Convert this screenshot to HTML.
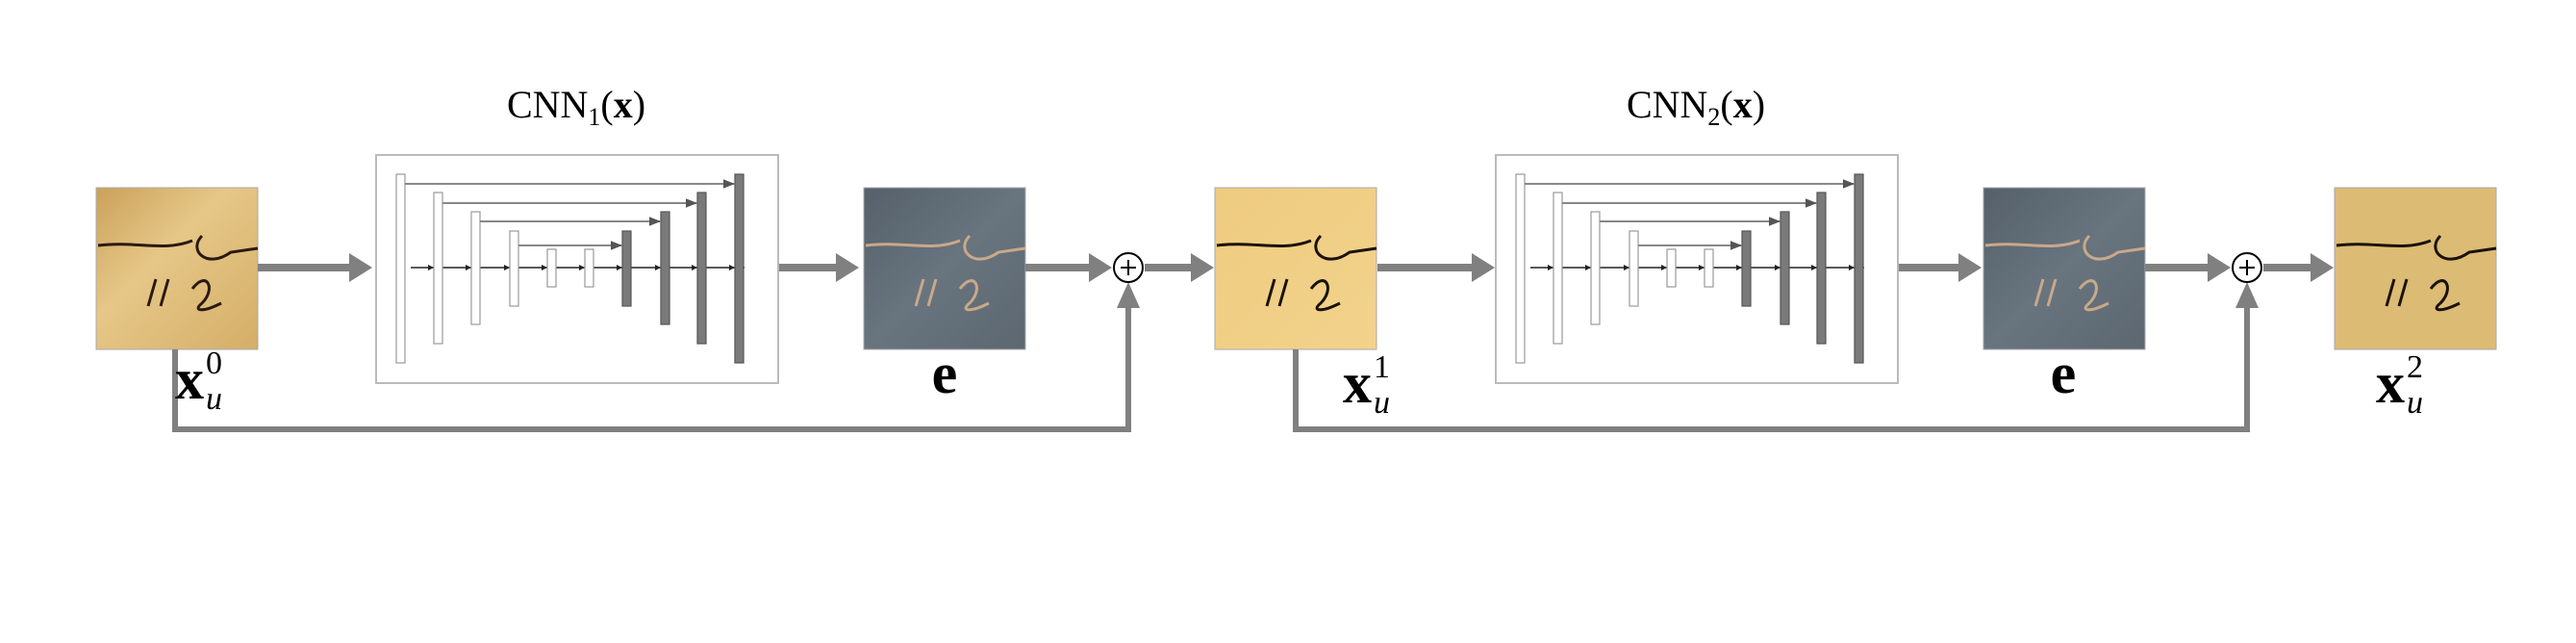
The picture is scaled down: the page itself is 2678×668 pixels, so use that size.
<!DOCTYPE html>
<html><head><meta charset="utf-8"><style>
html,body{margin:0;padding:0;background:#fff;}
svg{display:block}
text{font-family:"Liberation Serif",serif;fill:#000}
</style></head><body>
<svg id="s" width="2678" height="668" viewBox="0 0 2678 668" xmlns="http://www.w3.org/2000/svg">
<defs>
<linearGradient id="g1" x1="0" y1="0" x2="1" y2="1"><stop offset="0" stop-color="#caa15a"/><stop offset="0.4" stop-color="#e6c787"/><stop offset="1" stop-color="#d4ae68"/></linearGradient>
<linearGradient id="ge" x1="0" y1="0" x2="1" y2="1"><stop offset="0" stop-color="#55606a"/><stop offset="0.5" stop-color="#68747e"/><stop offset="1" stop-color="#5c6770"/></linearGradient>
<linearGradient id="g2" x1="0" y1="0" x2="1" y2="1"><stop offset="0" stop-color="#eecb7f"/><stop offset="1" stop-color="#f2d38c"/></linearGradient>
<marker id="ah" viewBox="0 0 10 10" refX="10" refY="5" markerWidth="6" markerHeight="6" orient="auto"><path d="M0,1 L10,5 L0,9 z" fill="#555"/></marker>
</defs>
<g id="main"></g>
<text x="599" y="122" font-size="40" text-anchor="middle">CNN<tspan font-size="26" dy="8">1</tspan><tspan dy="-8">(</tspan><tspan font-weight="bold">x</tspan>)</text>
<text x="1763" y="122" font-size="40" text-anchor="middle">CNN<tspan font-size="26" dy="8">2</tspan><tspan dy="-8">(</tspan><tspan font-weight="bold">x</tspan>)</text>
<text x="182" y="414" font-size="60" font-weight="bold">x</text><text x="214" y="388" font-size="34">0</text><text x="214" y="425" font-size="34" font-style="italic">u</text>
<text x="982" y="408" font-size="60" font-weight="bold" text-anchor="middle">e</text>
<text x="1396" y="418" font-size="60" font-weight="bold">x</text><text x="1428" y="392" font-size="34">1</text><text x="1428" y="429" font-size="34" font-style="italic">u</text>
<text x="2145" y="408" font-size="60" font-weight="bold" text-anchor="middle">e</text>
<text x="2470" y="418" font-size="60" font-weight="bold">x</text><text x="2502" y="392" font-size="34">2</text><text x="2502" y="429" font-size="34" font-style="italic">u</text>
</svg>
<script>
const NS='http://www.w3.org/2000/svg';
const g=document.getElementById('main');
function el(t,a,name){const e=document.createElementNS(NS,t);for(const k in a)e.setAttribute(k,a[k]);


g.appendChild(e);return e;}
const Y=278, GR='#808080';
function img(x,fill,name,ink){
 el('rect',{x:x,y:195,width:168,height:168,fill:fill,stroke:'#aaa','stroke-width':1},name);
 el('path',{d:`M${x+2},${255} C${x+40},250 ${x+70},262 ${x+100},250 M${x+110},245 C${x+95},260 ${x+115},280 ${x+140},262 L${x+168},258 M${x+62},290 l-8,28 M${x+75},290 l-8,28 M${x+100},300 c15,-20 25,0 10,15 c-10,8 0,10 20,0`,fill:'none',stroke:ink,'stroke-width':3},name+'-handwriting');
}
img(100,'url(#g1)','input-image-x0','#2a1a10');
img(898,'url(#ge)','error-image-e1','#c9a88a');
img(1263,'url(#g2)','image-x1','#1a1208');
img(2062,'url(#ge)','error-image-e2','#c9a88a');
img(2427,'#dcbb74','output-image-x2','#1a1208');
function arrow(x1,x2,name){
 el('line',{x1:x1,y1:Y,x2:x2-20,y2:Y,stroke:GR,'stroke-width':8},name);
 el('path',{d:`M${x2-24},${Y-15} L${x2},${Y} L${x2-24},${Y+15} z`,fill:GR},name+'-head');
}
arrow(268,387,'arrow-x0-cnn1');arrow(809,893,'arrow-cnn1-e1');arrow(1066,1156,'arrow-e1-plus1');arrow(1190,1262,'arrow-plus1-x1');
arrow(1432,1554,'arrow-x1-cnn2');arrow(1972,2060,'arrow-cnn2-e2');arrow(2230,2319,'arrow-e2-plus2');arrow(2353,2426,'arrow-plus2-x2');
function skip(xs,xp,name){
 el('path',{d:`M${xs},363 L${xs},446 L${xp},446 L${xp},318`,fill:'none',stroke:GR,'stroke-width':6},name);
 el('path',{d:`M${xp-12},320 L${xp},293 L${xp+12},320 z`,fill:GR},name+'-head');
}
skip(182,1173,'skip-connection-1');skip(1347,2336,'skip-connection-2');
function plus(cx,name){
 el('circle',{cx:cx,cy:Y,r:15,fill:'#fff',stroke:'#000','stroke-width':2},name);
 el('path',{d:`M${cx-8},${Y} h16 M${cx},${Y-8} v16`,stroke:'#000','stroke-width':2},name+'-sign');
}
plus(1173,'plus-node-1');plus(2336,'plus-node-2');
const barX=[21,60,99,139,178,217,256,296,334,373];
const barH=[[181,377],[200,357],[220,337],[240,318],[259,298],[259,298],[240,318],[220,337],[200,357],[181,377]];
function cnn(x0,name){
 el('rect',{x:x0,y:161,width:418,height:237,fill:'#fff',stroke:'#bbb','stroke-width':2},name);
 el('line',{x1:x0+36,y1:Y,x2:x0+383,y2:Y,stroke:'#222','stroke-width':1.5},name+'-center-line');
 for(let i=0;i<9;i++){el('path',{d:`M${x0+barX[i+1]-6},${Y-3} L${x0+barX[i+1]},${Y} L${x0+barX[i+1]-6},${Y+3}z`,fill:'#222'},name+'-flow-arrow');}
 for(let i=0;i<10;i++){
  const dark=i>=6;
  el('rect',{x:x0+barX[i],y:barH[i][0],width:9,height:barH[i][1]-barH[i][0],fill:dark?'#7a7a7a':'#fff',stroke:dark?'#555':'#999','stroke-width':1.2},name+'-layer-'+i);
 }
 const sy=[191,211,230,255];
 for(let i=0;i<4;i++){
  el('line',{x1:x0+barX[i]+9,y1:sy[i],x2:x0+barX[9-i],y2:sy[i],stroke:'#888','stroke-width':2,'marker-end':'url(#ah)'},name+'-skip-'+i);
 }
}
cnn(391,'cnn1-block');cnn(1555,'cnn2-block');
</script>
</body></html>
